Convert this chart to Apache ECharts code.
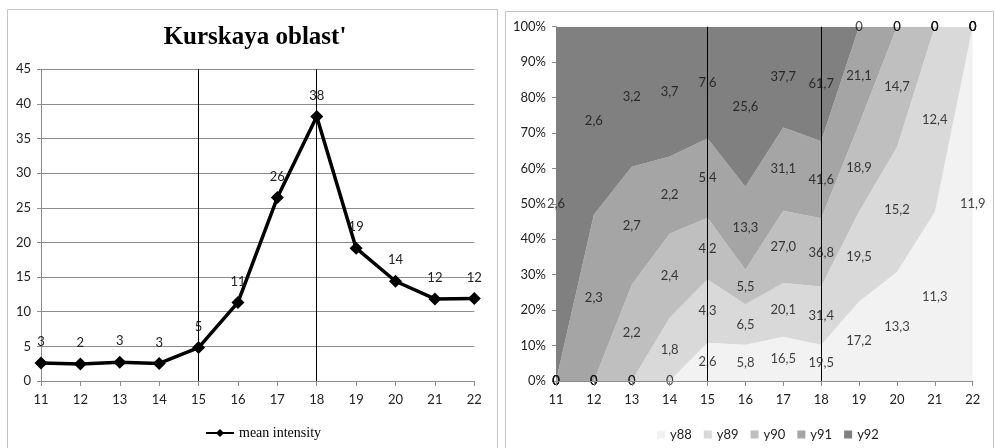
<!DOCTYPE html>
<html><head><meta charset="utf-8">
<script src="https://cdn.jsdelivr.net/npm/echarts@6/dist/echarts.min.js"></script>
<style>html,body{margin:0;padding:0;background:#fff;}#c{width:995px;height:448px;}</style>
</head><body><div id="c"></div>
<script>
// ---- data ----
const years = ['11','12','13','14','15','16','17','18','19','20','21','22'];
const meanIntensity = [2.6, 2.45, 2.7, 2.53, 4.82, 11.34, 26.48, 38.2, 19.18, 14.4, 11.85, 11.9];
const seriesNames = ['y88','y89','y90','y91','y92'];
const y88 = [0, 0, 0, 0, 2.6, 5.8, 16.5, 19.5, 17.2, 13.3, 11.3, 11.9];
const y89 = [0, 0, 0, 1.8, 4.3, 6.5, 20.1, 31.4, 19.5, 15.2, 12.4, 0];
const y90 = [0, 0, 2.2, 2.4, 4.2, 5.5, 27.0, 36.8, 18.9, 14.7, 0, 0];
const y91 = [0, 2.3, 2.7, 2.2, 5.4, 13.3, 31.1, 41.6, 21.1, 0, 0, 0];
const y92 = [2.6, 2.6, 3.2, 3.7, 7.6, 25.6, 37.7, 61.7, 0, 0, 0, 0];
const markYears = ['15', '18'];
const leftYTicks = {min: 0, max: 45, interval: 5};
const rightYTicks = {min: 0, max: 100, interval: 10};
const areaColors = ['#f2f2f2', '#d9d9d9', '#bfbfbf', '#a5a5a5', '#808080'];

// ---- derived ----
const raw = [y88, y89, y90, y91, y92];
const totals = years.map((_, i) => raw.reduce((s, a) => s + a[i], 0));
const pct = raw.map(a => a.map((v, i) => v / totals[i] * 100));
const fmt = v => v === 0 ? '0' : v.toFixed(1).replace('.', ',');

const chart = echarts.init(document.getElementById('c'));
const axisLabelStyle = {color: '#222', fontFamily: 'Lato', fontSize: 13};
const grayLine = {lineStyle: {color: '#8c8c8c', width: 1}};

const series = [];
// left line
series.push({
  type: 'line', xAxisIndex: 0, yAxisIndex: 0, name: 'mean intensity',
  data: meanIntensity, symbol: 'diamond', symbolSize: 13,
  lineStyle: {color: '#000', width: 3.5}, itemStyle: {color: '#000'},
  label: {show: true, position: 'top', distance: 8, color: '#222', fontFamily: 'Lato', fontSize: 13,
          formatter: p => String(Math.round(p.value))},
  markLine: {silent: true, symbol: 'none', label: {show: false},
             lineStyle: {color: '#000', width: 1, type: 'solid'},
             data: markYears.map(y => ({xAxis: y}))},
  z: 3
});
// right stacked areas
pct.forEach((arr, k) => {
  series.push({
    type: 'line', xAxisIndex: 1, yAxisIndex: 1, name: seriesNames[k], stack: 'all',
    data: arr, symbol: 'none', lineStyle: {width: 0},
    areaStyle: {color: areaColors[k], opacity: 1}, itemStyle: {color: areaColors[k]},
    z: 2
  });
});
// band labels via invisible scatter
const labelData = [];
years.forEach((y, i) => {
  let cum = 0;
  raw.forEach((a, k) => {
    const p = pct[k][i];
    labelData.push({value: [y, cum + p / 2], raw: a[i]});
    cum += p;
  });
});
series.push({
  type: 'scatter', xAxisIndex: 1, yAxisIndex: 1, symbolSize: 0, data: labelData,
  label: {show: true, position: 'inside', color: '#111', fontFamily: 'Lato', fontSize: 13,
          formatter: p => fmt(p.data.raw)},
  markLine: {silent: true, symbol: 'none', label: {show: false},
             lineStyle: {color: '#000', width: 1, type: 'solid'},
             data: markYears.map(y => ({xAxis: y}))},
  z: 5, tooltip: {show: false}
});

chart.setOption({
  animation: false,
  backgroundColor: '#fff',
  title: {text: "Kurskaya oblast'", left: 250, top: 20, textAlign: 'center',
          textStyle: {fontFamily: 'Liberation Serif', fontWeight: 'bold', fontSize: 25, color: '#000'}},
  legend: [
    {data: ['mean intensity'], left: 200, top: 421, itemWidth: 28, itemHeight: 10, itemGap: 4,
     textStyle: {fontFamily: 'Liberation Serif', fontSize: 14, color: '#000'}},
    {data: seriesNames, left: 652, top: 423, itemWidth: 8, itemHeight: 8, itemGap: 12, icon: 'rect',
     textStyle: {fontFamily: 'Lato', fontSize: 13, color: '#222'}}
  ],
  grid: [
    {left: 41, top: 69.3, width: 433.3, height: 311.7},
    {left: 556, top: 26.7, width: 416.7, height: 354.3}
  ],
  xAxis: [
    {type: 'category', gridIndex: 0, data: years, boundaryGap: false,
     axisLine: grayLine, axisTick: {show: true, length: 5, lineStyle: {color: '#8c8c8c'}},
     axisLabel: Object.assign({margin: 12}, axisLabelStyle)},
    {type: 'category', gridIndex: 1, data: years, boundaryGap: false,
     axisLine: grayLine, axisTick: {show: true, length: 5, lineStyle: {color: '#8c8c8c'}},
     axisLabel: Object.assign({margin: 12}, axisLabelStyle), z: 10}
  ],
  yAxis: [
    {type: 'value', gridIndex: 0, min: leftYTicks.min, max: leftYTicks.max, interval: leftYTicks.interval,
     axisLine: Object.assign({show: true}, grayLine), axisTick: {show: true, length: 4, lineStyle: {color: '#8c8c8c'}},
     splitLine: {show: true, lineStyle: {color: '#8c8c8c', width: 1}},
     axisLabel: Object.assign({margin: 10}, axisLabelStyle)},
    {type: 'value', gridIndex: 1, min: rightYTicks.min, max: rightYTicks.max, interval: rightYTicks.interval,
     axisLine: Object.assign({show: true}, grayLine), axisTick: {show: true, length: 4, lineStyle: {color: '#8c8c8c'}},
     splitLine: {show: false},
     axisLabel: Object.assign({margin: 10, formatter: '{value}%'}, axisLabelStyle)}
  ],
  graphic: [
    {type: 'rect', shape: {x: 7.5, y: 9.5, width: 490, height: 445}, style: {fill: 'none', stroke: '#c4c4c4', lineWidth: 1}, z: -1},
    {type: 'rect', shape: {x: 505.5, y: 11.5, width: 488, height: 445}, style: {fill: 'none', stroke: '#c4c4c4', lineWidth: 1}, z: -1}
  ],
  series: series
});
</script></body></html>
